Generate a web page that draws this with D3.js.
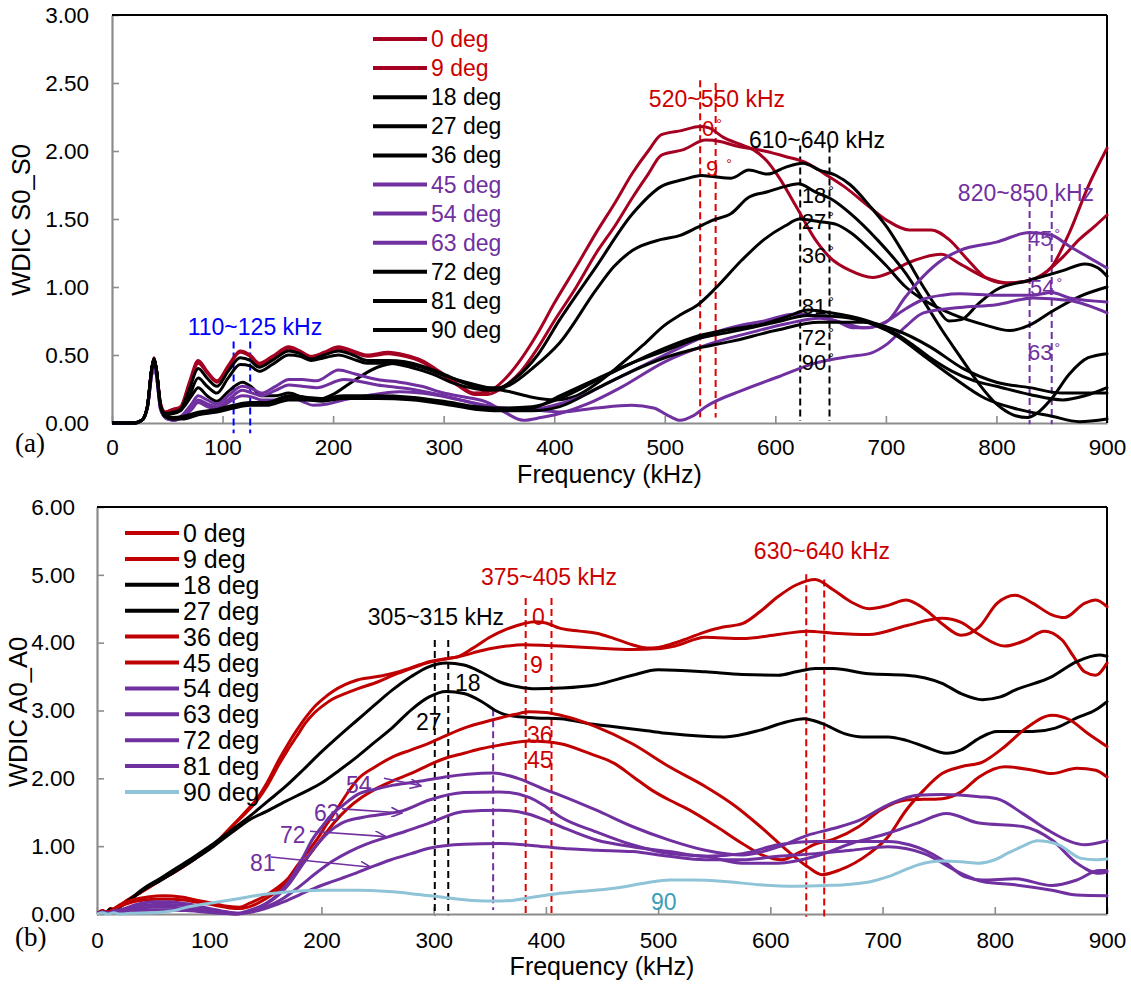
<!DOCTYPE html>
<html><head><meta charset="utf-8">
<script src="https://cdn.jsdelivr.net/npm/d3@7"></script>
<style>
body{margin:0;background:#fff}
svg{display:block}
</style>
</head><body>
<svg id="c" width="1131" height="984"></svg>
<script>
// ================= DATA =================
const freqTicks = [0,100,200,300,400,500,600,700,800,900];
const s0Ticks = [0,0.5,1,1.5,2,2.5,3];
const a0Ticks = [0,1,2,3,4,5,6];
const legendNames = ["0 deg","9 deg","18 deg","27 deg","36 deg","45 deg","54 deg","63 deg","72 deg","81 deg","90 deg"];

// ---- (a) WDIC S0_S0 : [frequency kHz, value] ----
const s0_0 = [[0,0],[20,0],[27,0.02],[32,0.12],[36,0.4],[38,0.48],[40,0.4],[44,0.14],[48,0.08],[55,0.1],[62,0.12],[70,0.3],[78,0.46],[86,0.38],[95,0.31],[105,0.42],[116,0.53],[125,0.5],[133,0.44],[145,0.49],[160,0.56],[170,0.53],[180,0.49],[192,0.52],[205,0.56],[218,0.53],[231,0.5],[250,0.52],[265,0.5],[280,0.46],[296,0.38],[312,0.29],[328,0.22],[340,0.23],[355,0.32],[370,0.47],[385,0.66],[400,0.88],[420,1.15],[438,1.4],[455,1.62],[471,1.84],[485,2.0],[497,2.12],[515,2.15],[532,2.18],[540,2.17],[553,2.1],[568,2.05],[580,2.01],[592,1.93],[603,1.81],[619,1.59],[636,1.35],[649,1.22],[668,1.12],[688,1.07],[702,1.1],[718,1.17],[735,1.22],[750,1.24],[767,1.17],[790,1.07],[810,1.03],[830,1.05],[850,1.15],[866,1.4],[883,1.74],[900,2.02]];
const s0_9 = [[0,0],[20,0],[27,0.02],[32,0.12],[36,0.4],[38,0.47],[40,0.4],[44,0.14],[48,0.08],[55,0.1],[62,0.11],[70,0.28],[78,0.44],[86,0.37],[95,0.3],[105,0.41],[116,0.52],[125,0.49],[133,0.43],[145,0.48],[160,0.55],[170,0.52],[180,0.48],[192,0.51],[205,0.55],[218,0.52],[231,0.49],[250,0.51],[265,0.49],[280,0.45],[296,0.37],[312,0.28],[328,0.21],[340,0.21],[355,0.27],[370,0.38],[385,0.55],[400,0.75],[420,1.0],[438,1.25],[455,1.45],[471,1.66],[485,1.83],[497,1.97],[517,2.01],[537,2.08],[550,2.07],[563,2.04],[590,2.0],[609,1.96],[629,1.91],[645,1.83],[662,1.74],[685,1.59],[701,1.49],[721,1.42],[741,1.42],[757,1.35],[774,1.2],[790,1.07],[807,1.03],[827,1.04],[843,1.1],[860,1.22],[875,1.35],[888,1.44],[900,1.53]];
const s0_18 = [[0,0],[20,0],[27,0.02],[32,0.12],[36,0.4],[38,0.47],[40,0.4],[44,0.12],[48,0.07],[55,0.08],[62,0.1],[70,0.25],[78,0.4],[86,0.33],[95,0.27],[105,0.38],[116,0.48],[125,0.46],[133,0.41],[145,0.46],[160,0.53],[170,0.51],[180,0.47],[192,0.5],[205,0.53],[218,0.5],[231,0.46],[250,0.46],[265,0.45],[280,0.42],[300,0.36],[320,0.29],[335,0.26],[350,0.26],[365,0.33],[385,0.5],[405,0.76],[438,1.15],[471,1.54],[497,1.74],[517,1.79],[533,1.82],[545,1.81],[560,1.8],[576,1.86],[593,1.83],[609,1.88],[625,1.91],[640,1.86],[655,1.82],[668,1.75],[685,1.6],[701,1.44],[718,1.22],[734,1.0],[746,0.85],[757,0.75],[768,0.76],[784,0.88],[800,0.98],[830,1.05],[860,1.12],[880,1.17],[892,1.14],[900,1.08]];
const s0_27 = [[0,0],[20,0],[27,0.02],[32,0.12],[36,0.4],[38,0.47],[40,0.4],[44,0.12],[48,0.07],[55,0.07],[62,0.09],[70,0.2],[78,0.33],[86,0.27],[95,0.22],[105,0.33],[116,0.43],[125,0.42],[133,0.38],[145,0.43],[160,0.5],[170,0.49],[180,0.46],[192,0.48],[205,0.5],[218,0.47],[231,0.44],[250,0.44],[270,0.41],[290,0.36],[310,0.29],[330,0.25],[345,0.24],[360,0.28],[380,0.4],[405,0.59],[438,0.98],[454,1.15],[471,1.27],[497,1.35],[514,1.38],[530,1.44],[543,1.49],[560,1.54],[576,1.66],[593,1.7],[609,1.74],[621,1.76],[636,1.7],[652,1.64],[668,1.54],[692,1.35],[718,1.1],[734,0.9],[751,0.68],[767,0.49],[784,0.29],[800,0.14],[815,0.06],[828,0.04],[838,0.08],[850,0.18],[866,0.36],[883,0.48],[900,0.51]];
const s0_36 = [[0,0],[20,0],[27,0.02],[32,0.12],[36,0.4],[38,0.47],[40,0.4],[44,0.12],[48,0.06],[55,0.07],[65,0.12],[72,0.2],[78,0.26],[86,0.2],[95,0.16],[105,0.23],[118,0.3],[127,0.26],[135,0.2],[148,0.2],[160,0.22],[172,0.19],[185,0.17],[200,0.21],[215,0.29],[240,0.41],[258,0.44],[280,0.41],[300,0.35],[320,0.3],[340,0.26],[360,0.23],[380,0.19],[400,0.17],[420,0.2],[440,0.3],[460,0.43],[480,0.57],[500,0.72],[515,0.8],[530,0.87],[547,1.0],[570,1.2],[590,1.35],[609,1.45],[622,1.5],[640,1.48],[655,1.46],[668,1.4],[685,1.28],[700,1.16],[718,1.0],[735,0.9],[760,0.8],[790,0.72],[812,0.68],[830,0.72],[850,0.82],[875,0.93],[900,1.0]];
const s0_45 = [[0,0],[20,0],[27,0.02],[32,0.11],[36,0.36],[38,0.42],[40,0.36],[44,0.1],[50,0.03],[56,0.02],[65,0.07],[72,0.14],[78,0.2],[86,0.17],[95,0.14],[105,0.2],[118,0.27],[127,0.25],[135,0.22],[148,0.27],[160,0.32],[172,0.32],[185,0.31],[205,0.39],[220,0.36],[240,0.32],[260,0.3],[280,0.27],[300,0.22],[320,0.19],[340,0.15],[355,0.08],[372,0.02],[388,0.04],[405,0.07],[430,0.14],[460,0.26],[500,0.45],[540,0.58],[580,0.67],[610,0.73],[640,0.77],[660,0.74],[680,0.7],[700,0.74],[718,0.93],[734,1.08],[751,1.2],[767,1.27],[800,1.33],[830,1.4],[850,1.38],[866,1.3],[883,1.22],[900,1.14]];
const s0_54 = [[0,0],[20,0],[27,0.02],[32,0.11],[36,0.36],[38,0.42],[40,0.36],[44,0.1],[50,0.03],[56,0.02],[65,0.06],[72,0.12],[78,0.17],[86,0.14],[95,0.12],[105,0.17],[118,0.24],[127,0.22],[135,0.2],[148,0.24],[160,0.28],[172,0.27],[185,0.26],[210,0.32],[240,0.28],[270,0.25],[300,0.2],[320,0.16],[340,0.12],[360,0.1],[380,0.1],[400,0.13],[420,0.18],[450,0.3],[480,0.42],[510,0.54],[540,0.65],[570,0.72],[590,0.75],[616,0.8],[636,0.79],[655,0.75],[670,0.7],[685,0.7],[701,0.75],[718,0.84],[734,0.91],[751,0.94],[767,0.95],[800,0.94],[833,0.94],[850,0.96],[866,0.92],[900,0.89]];
const s0_63 = [[0,0],[20,0],[27,0.02],[32,0.11],[36,0.36],[38,0.42],[40,0.36],[44,0.1],[50,0.03],[56,0.02],[65,0.05],[72,0.1],[78,0.15],[86,0.12],[95,0.1],[105,0.15],[118,0.2],[127,0.19],[135,0.17],[148,0.17],[160,0.19],[172,0.16],[182,0.13],[195,0.14],[210,0.17],[230,0.2],[260,0.23],[290,0.21],[320,0.16],[345,0.12],[370,0.1],[390,0.09],[405,0.08],[438,0.11],[470,0.13],[490,0.11],[504,0.05],[514,0.02],[525,0.05],[537,0.12],[570,0.24],[603,0.34],[636,0.44],[668,0.49],[685,0.51],[701,0.58],[718,0.71],[734,0.81],[767,0.85],[800,0.87],[833,0.92],[866,0.9],[900,0.81]];
const s0_72 = [[0,0],[20,0],[27,0.02],[32,0.12],[36,0.4],[38,0.47],[40,0.4],[44,0.12],[48,0.05],[55,0.03],[65,0.04],[78,0.07],[95,0.09],[110,0.12],[125,0.14],[140,0.14],[160,0.19],[175,0.18],[190,0.17],[210,0.19],[240,0.19],[270,0.18],[300,0.15],[330,0.11],[350,0.1],[380,0.11],[405,0.2],[440,0.33],[470,0.44],[500,0.53],[530,0.62],[560,0.67],[600,0.74],[630,0.79],[660,0.78],[690,0.72],[710,0.64],[730,0.52],[760,0.34],[790,0.18],[820,0.1],[850,0.05],[875,0.01],[900,0.03]];
const s0_81 = [[0,0],[20,0],[27,0.02],[32,0.12],[36,0.4],[38,0.47],[40,0.4],[44,0.12],[48,0.05],[55,0.04],[65,0.05],[78,0.08],[95,0.1],[110,0.13],[125,0.15],[140,0.15],[160,0.2],[175,0.19],[190,0.18],[210,0.2],[240,0.2],[270,0.19],[300,0.16],[330,0.12],[350,0.11],[380,0.12],[405,0.18],[440,0.32],[470,0.44],[500,0.55],[530,0.64],[560,0.69],[590,0.73],[610,0.78],[630,0.83],[650,0.81],[680,0.76],[700,0.7],[720,0.6],[740,0.48],[760,0.38],[780,0.31],[800,0.27],[830,0.21],[860,0.17],[880,0.2],[900,0.26]];
const s0_90 = [[0,0],[20,0],[27,0.02],[32,0.12],[36,0.4],[38,0.47],[40,0.4],[44,0.12],[48,0.05],[55,0.03],[65,0.03],[78,0.06],[95,0.08],[110,0.11],[125,0.13],[140,0.13],[160,0.17],[175,0.17],[190,0.16],[210,0.18],[240,0.18],[270,0.17],[300,0.14],[330,0.1],[350,0.09],[380,0.09],[405,0.12],[440,0.26],[470,0.38],[500,0.48],[530,0.55],[560,0.6],[600,0.68],[640,0.74],[680,0.74],[710,0.68],[740,0.56],[770,0.4],[800,0.3],[830,0.26],[860,0.22],[900,0.22]];

// ---- (b) WDIC A0_A0 ----
const a0_0 = [[0,0],[5,0.05],[8,0.02],[12,0.08],[16,0.05],[20,0.12],[25,0.18],[40,0.33],[57,0.5],[75,0.68],[92,0.87],[106,1.05],[120,1.29],[132,1.5],[143,1.71],[152,1.95],[162,2.27],[170,2.5],[178,2.71],[186,2.9],[194,3.06],[202,3.18],[210,3.28],[221,3.38],[232,3.45],[250,3.5],[264,3.55],[280,3.63],[296,3.72],[310,3.76],[321,3.79],[335,3.92],[350,4.08],[365,4.2],[380,4.28],[390,4.31],[400,4.29],[413,4.21],[430,4.17],[445,4.14],[461,4.06],[477,3.97],[490,3.92],[500,3.93],[510,3.97],[526,4.06],[542,4.16],[558,4.23],[575,4.28],[591,4.46],[607,4.68],[623,4.85],[640,4.93],[656,4.78],[672,4.6],[688,4.5],[705,4.55],[721,4.63],[737,4.5],[753,4.28],[770,4.11],[786,4.23],[802,4.58],[818,4.7],[834,4.58],[851,4.41],[862,4.37],[880,4.58],[890,4.63],[900,4.53]];
const a0_9 = [[0,0],[5,0.05],[8,0.02],[12,0.08],[16,0.05],[20,0.12],[25,0.18],[40,0.33],[57,0.5],[75,0.68],[92,0.87],[106,1.05],[120,1.29],[132,1.48],[143,1.68],[152,1.9],[162,2.2],[170,2.42],[178,2.62],[186,2.82],[194,2.97],[202,3.08],[210,3.17],[221,3.25],[232,3.32],[250,3.42],[264,3.52],[280,3.62],[296,3.71],[310,3.76],[321,3.79],[335,3.85],[350,3.91],[365,3.95],[380,3.97],[400,3.96],[413,3.95],[445,3.92],[477,3.9],[500,3.91],[515,3.95],[542,4.08],[575,4.06],[607,4.12],[633,4.17],[656,4.14],[688,4.12],[721,4.25],[753,4.36],[770,4.3],[786,4.12],[809,3.95],[828,4.04],[844,4.17],[860,4.04],[870,3.8],[880,3.57],[890,3.52],[900,3.7]];
const a0_18 = [[0,0],[5,0.04],[8,0.02],[12,0.07],[16,0.05],[20,0.1],[25,0.16],[41,0.37],[57,0.53],[73,0.7],[88,0.86],[104,1.04],[120,1.24],[136,1.44],[152,1.66],[168,1.88],[184,2.13],[200,2.39],[216,2.63],[232,2.86],[248,3.09],[263,3.3],[280,3.5],[295,3.64],[311,3.7],[327,3.67],[343,3.56],[359,3.42],[375,3.35],[391,3.32],[413,3.33],[445,3.38],[477,3.52],[500,3.6],[542,3.57],[575,3.53],[607,3.52],[623,3.57],[640,3.62],[656,3.62],[688,3.54],[721,3.52],[753,3.4],[770,3.25],[789,3.16],[805,3.2],[818,3.3],[851,3.5],[873,3.72],[893,3.82],[900,3.8]];
const a0_27 = [[0,0],[5,0.04],[8,0.02],[12,0.07],[16,0.05],[20,0.1],[25,0.15],[41,0.35],[57,0.5],[73,0.66],[88,0.82],[104,1.0],[120,1.2],[136,1.39],[152,1.52],[168,1.66],[184,1.79],[200,1.93],[216,2.12],[232,2.32],[248,2.54],[264,2.76],[280,3.01],[296,3.2],[311,3.28],[327,3.25],[343,3.13],[355,3.0],[366,2.93],[391,2.89],[413,2.88],[440,2.8],[461,2.76],[490,2.7],[510,2.66],[559,2.61],[591,2.71],[614,2.83],[630,2.88],[646,2.81],[666,2.66],[682,2.61],[705,2.61],[721,2.56],[737,2.47],[757,2.37],[770,2.42],[786,2.59],[802,2.69],[834,2.69],[854,2.74],[873,2.89],[890,3.01],[900,3.13]];
const a0_36 = [[0,0],[5,0.04],[10,0.03],[15,0.08],[20,0.13],[30,0.2],[45,0.25],[60,0.27],[75,0.25],[90,0.2],[105,0.15],[118,0.11],[127,0.1],[136,0.16],[148,0.25],[160,0.38],[170,0.52],[178,0.7],[187,0.9],[196,1.1],[205,1.33],[214,1.55],[223,1.78],[232,1.98],[248,2.17],[264,2.32],[280,2.42],[296,2.52],[311,2.63],[327,2.74],[343,2.82],[359,2.89],[372,2.94],[385,2.98],[400,2.97],[413,2.93],[445,2.76],[477,2.51],[510,2.17],[542,1.88],[568,1.6],[591,1.29],[614,0.95],[633,0.7],[646,0.58],[662,0.65],[688,0.89],[705,1.14],[721,1.53],[737,1.83],[753,2.07],[770,2.17],[789,2.24],[809,2.47],[828,2.74],[851,2.93],[867,2.86],[883,2.66],[900,2.47]];
const a0_45 = [[0,0],[5,0.04],[10,0.03],[15,0.07],[20,0.11],[30,0.17],[45,0.21],[60,0.22],[75,0.21],[90,0.17],[105,0.13],[118,0.09],[127,0.08],[138,0.12],[150,0.22],[162,0.36],[172,0.52],[182,0.72],[192,0.93],[202,1.15],[212,1.36],[223,1.55],[236,1.72],[250,1.86],[266,1.98],[281,2.08],[296,2.2],[311,2.3],[327,2.37],[343,2.44],[359,2.49],[385,2.55],[400,2.54],[413,2.51],[440,2.36],[461,2.22],[478,2.02],[494,1.83],[510,1.68],[526,1.55],[552,1.29],[575,1.04],[594,0.86],[610,0.8],[625,0.9],[640,1.03],[656,1.1],[679,1.29],[698,1.53],[721,1.68],[753,1.7],[770,1.8],[786,2.02],[809,2.17],[834,2.12],[851,2.07],[873,2.15],[890,2.12],[900,2.02]];
const a0_54 = [[0,0],[5,0.03],[10,0.01],[15,0.05],[20,0.06],[35,0.14],[50,0.18],[65,0.18],[80,0.15],[95,0.1],[110,0.05],[125,0.01],[135,0.05],[150,0.15],[162,0.3],[172,0.5],[184,0.85],[192,1.1],[201,1.3],[210,1.48],[219,1.6],[232,1.76],[248,1.84],[264,1.9],[289,1.96],[310,2.02],[330,2.06],[353,2.08],[375,2.0],[400,1.83],[413,1.75],[445,1.53],[477,1.29],[510,1.09],[542,0.94],[575,0.87],[607,0.99],[633,1.16],[656,1.26],[679,1.38],[705,1.61],[731,1.75],[753,1.76],[786,1.73],[802,1.7],[825,1.48],[847,1.24],[867,1.07],[880,1.02],[900,1.08]];
const a0_63 = [[0,0],[5,0.03],[10,0.01],[15,0.04],[20,0.05],[35,0.11],[50,0.14],[65,0.14],[80,0.12],[95,0.08],[110,0.04],[125,0.01],[135,0.04],[150,0.14],[162,0.28],[172,0.46],[184,0.75],[195,1.0],[206,1.2],[218,1.34],[235,1.42],[255,1.47],[272,1.52],[296,1.68],[327,1.79],[359,1.8],[385,1.72],[400,1.58],[413,1.43],[445,1.21],[477,1.02],[510,0.89],[542,0.85],[575,0.75],[607,0.75],[640,0.85],[672,1.04],[705,1.19],[731,1.34],[757,1.48],[786,1.34],[825,1.29],[851,1.09],[873,0.75],[893,0.6],[900,0.62]];
const a0_72 = [[0,0],[5,0.03],[10,0.01],[15,0.03],[20,0.04],[35,0.08],[50,0.1],[65,0.1],[80,0.08],[95,0.05],[110,0.02],[125,0.0],[135,0.03],[150,0.1],[165,0.22],[180,0.4],[195,0.6],[210,0.78],[225,0.92],[240,1.03],[258,1.13],[275,1.22],[296,1.34],[327,1.51],[359,1.53],[385,1.47],[400,1.38],[413,1.29],[445,1.09],[477,0.99],[510,0.92],[542,0.85],[575,0.89],[607,1.02],[640,1.07],[672,1.07],[705,1.07],[724,1.02],[753,0.8],[773,0.55],[789,0.5],[818,0.52],[851,0.42],[873,0.5],[893,0.64],[900,0.64]];
const a0_81 = [[0,0],[5,0.03],[10,0.01],[15,0.02],[20,0.03],[35,0.05],[50,0.06],[65,0.06],[80,0.05],[95,0.03],[110,0.01],[125,0.0],[135,0.02],[150,0.08],[165,0.17],[180,0.28],[195,0.39],[210,0.48],[227,0.58],[244,0.69],[262,0.8],[280,0.89],[296,0.97],[327,1.03],[359,1.04],[400,0.99],[413,0.97],[445,0.94],[477,0.92],[510,0.85],[542,0.8],[575,0.8],[607,0.85],[640,0.89],[672,0.94],[705,0.99],[737,0.89],[770,0.6],[789,0.48],[818,0.43],[851,0.35],[873,0.28],[900,0.27]];
const a0_90 = [[0,0],[5,0.02],[10,0.0],[15,0.02],[20,0.0],[30,0.01],[50,0.02],[65,0.04],[83,0.11],[105,0.17],[127,0.23],[145,0.28],[160,0.31],[180,0.34],[201,0.35],[232,0.35],[260,0.33],[280,0.3],[311,0.24],[335,0.2],[353,0.19],[370,0.2],[385,0.24],[410,0.3],[430,0.33],[461,0.38],[490,0.46],[510,0.5],[530,0.5],[559,0.48],[591,0.43],[623,0.41],[650,0.42],[672,0.44],[690,0.48],[705,0.55],[720,0.65],[731,0.72],[753,0.78],[770,0.77],[786,0.75],[800,0.8],[812,0.9],[825,1.0],[838,1.08],[857,1.02],[877,0.82],[890,0.8],[900,0.81]];

// annotation values (frequency kHz, value range)
const s0Guides = [[110,0.60,-0.075],[125,0.60,-0.075],[532,2.52,0.04],[546,2.50,0.04],[622.5,2.04,0.015],[649,2.04,0.015],[830,1.64,-0.01],[850,1.64,-0.01]];
const s0GuideKind = ["blue","blue","red","red","black","black","purple","purple"];
const a0Guides = [[301,4.04,-0.02],[313,4.04,-0.02],[353,3.02,0.06],[382,4.66,0],[405,4.66,0],[632,5.01,-0.04],[648,4.93,-0.04]];
const a0GuideKind = ["black","black","purple","red","red","red","red"];
const s0Labels = [["110~125 kHz",129.3,0.647,"blue","middle"],["520~550 kHz",547.2,2.32,"red","middle"],["610~640 kHz",637.7,2.02,"black","middle"],["820~850 kHz",826.7,1.632,"purple","middle"]];
const s0DegLabels = [["0",533.6,2.11,"red"],["9 ",537.3,1.816,"red"],["18",624,1.615,"black"],["27",624,1.43,"black"],["36",624,1.176,"black"],["81",624,0.80,"black"],["72",624,0.574,"black"],["90",624,0.39,"black"],["45",828.5,1.30,"purple"],["54",830.3,0.94,"purple"],["63",828.5,0.463,"purple"]];
const a0Labels = [["305~315 kHz",302,4.26,"black","middle"],["375~405 kHz",402.8,4.85,"red","middle"],["630~640 kHz",646,5.24,"red","middle"],
  ["0",387.6,4.26,"red","start"],["9",385.8,3.55,"red","start"],["18",319,3.29,"black","start"],["27",284.3,2.71,"black","start"],["36",383.2,2.52,"red","start"],["45",383.2,2.15,"red","start"],
  ["54",221.9,1.785,"purple","start"],["63",193.4,1.372,"purple","start"],["72",163.1,1.047,"purple","start"],["81",136.3,0.634,"purple","start"],["90",493.7,0.059,"teal","start"]];
const a0Arrows = [[255.7,2.0,288.7,1.89],[218.3,1.55,271.8,1.49],[189.8,1.22,257.5,1.14],[155,0.84,244.2,0.69]];

// ================= STYLE =================
const SANS = "Arial, 'Liberation Sans', sans-serif";
const SERIF = "'Liberation Serif', 'Times New Roman', serif";
const C = {red:"#cc0000", darkred:"#a50021", red2:"#c00000", black:"#000000", purple:"#7030a0", blue:"#0000ff", lightblue:"#8fc4d8", teal:"#3d9cb6", guideRed:"#e00000", axis:"#8c8c8c"};
const kindColor = {blue:C.blue, red:C.guideRed, black:C.black, purple:C.purple, teal:C.teal};

const svg = d3.select("#c").style("font-family",SANS);
svg.append("rect").attr("width",1131).attr("height",984).attr("fill","#fff");
const defs = svg.append("defs");
defs.append("marker").attr("id","arr").attr("viewBox","0 0 12 10").attr("refX",11).attr("refY",5)
  .attr("markerWidth",12).attr("markerHeight",10).attr("markerUnits","userSpaceOnUse").attr("orient","auto")
  .append("path").attr("d","M0,0 L11,5 L0,10").attr("fill","none").attr("stroke",C.purple).attr("stroke-width",1.6);

function panel(o){
  const g = svg.append("g");
  const x = d3.scaleLinear().domain([0,900]).range([o.left,o.right]);
  const y = d3.scaleLinear().domain([0,o.ymax]).range([o.bottom,o.top]);
  const cid = "clip"+o.id;
  defs.append("clipPath").attr("id",cid).append("rect")
    .attr("x",o.left).attr("y",o.top-2).attr("width",o.right-o.left+2).attr("height",o.bottom-o.top+4);

  // axes
  const xa = d3.axisBottom(x).tickValues(freqTicks).tickFormat(d3.format("d")).tickSizeInner(-7).tickSizeOuter(0).tickPadding(o.xpad);
  const ya = d3.axisLeft(y).tickValues(o.yticks).tickFormat(d3.format(".2f")).tickSizeInner(-7).tickSizeOuter(0).tickPadding(o.ypad);
  const gx = g.append("g").attr("transform",`translate(0,${o.bottom})`).call(xa);
  const gy = g.append("g").attr("transform",`translate(${o.left},0)`).call(ya);
  [gx,gy].forEach(a=>{
    a.attr("font-family",null).attr("font-size",null);
    a.select(".domain").attr("stroke",C.axis).attr("stroke-width",2.2);
    a.selectAll(".tick line").attr("stroke",C.axis).attr("stroke-width",1.6);
    a.selectAll(".tick text").style("font-size","22.5px").style("font-family",SANS).attr("fill","#000");
  });
  g.append("line").attr("x1",o.left).attr("x2",o.right).attr("y1",o.top).attr("y2",o.top).attr("stroke","#000").attr("stroke-width",2);
  g.append("line").attr("x1",o.right).attr("x2",o.right).attr("y1",o.top).attr("y2",o.bottom).attr("stroke","#000").attr("stroke-width",2);

  // guides (dashed)
  o.guides.forEach((d,i)=>{
    g.append("line").attr("x1",x(d[0])).attr("x2",x(d[0])).attr("y1",y(d[1])).attr("y2",y(d[2]))
      .attr("stroke",kindColor[o.guideKind[i]]).attr("stroke-width",2).attr("stroke-dasharray","7,4");
  });

  // curves
  const line = d3.line().x(d=>x(d[0])).y(d=>y(d[1])).curve(d3.curveMonotoneX);
  const cg = g.append("g").attr("clip-path",`url(#${cid})`);
  o.series.forEach(s=>{
    cg.append("path").attr("d",line(s.data)).attr("fill","none").attr("stroke",s.color)
      .attr("stroke-width",3).attr("stroke-linejoin","round").attr("stroke-linecap","round");
  });

  // legend
  o.series.forEach((s,i)=>{
    const ly = o.legY + i*o.legStep;
    g.append("line").attr("x1",o.legX1).attr("x2",o.legX2).attr("y1",ly).attr("y2",ly)
      .attr("stroke",s.color).attr("stroke-width",4);
    g.append("text").attr("x",o.legX2+4).attr("y",ly+o.legBase).style("font-size",o.legFont+"px")
      .attr("fill",s.textColor).text(s.name);
  });

  // titles
  g.append("text").attr("x",(o.left+o.right)/2).attr("y",o.xTitleY).attr("text-anchor","middle").style("font-size","25px").text("Frequency (kHz)");
  g.append("text").attr("transform",`translate(${o.yTitleX},${o.yTitleC}) rotate(-90)`).attr("text-anchor","middle").style("font-size","25.5px").text(o.ytitle);
  g.append("text").attr("x",15).attr("y",o.tagY).style("font-size","27px").style("font-family",SERIF).text(o.tag);
  return {g,x,y};
}

function mk(names, arrs, colors, textColors){
  return arrs.map((a,i)=>({name:names[i],data:a,color:colors[i],textColor:textColors[i]}));
}

// ---------- Panel (a) ----------
const s0Colors = [C.darkred,C.darkred,C.black,C.black,C.black,C.purple,C.purple,C.purple,C.black,C.black,C.black];
const s0Text = [C.red,C.red,C.black,C.black,C.black,C.purple,C.purple,C.purple,C.black,C.black,C.black];
const pa = panel({id:"a", left:112, right:1107, top:15, bottom:423, ymax:3, yticks:s0Ticks, xpad:16, ypad:23,
  series: mk(legendNames,[s0_0,s0_9,s0_18,s0_27,s0_36,s0_45,s0_54,s0_63,s0_72,s0_81,s0_90],s0Colors,s0Text),
  guides:s0Guides, guideKind:s0GuideKind,
  legX1:373, legX2:427, legY:39, legStep:29.1, legBase:8, legFont:23,
  xTitleY:483, yTitleX:30, yTitleC:220, ytitle:"WDIC S0_S0", tag:"(a)", tagY:452});

s0Labels.forEach(d=>{
  pa.g.append("text").attr("x",pa.x(d[1])).attr("y",pa.y(d[2])).attr("text-anchor",d[4]).style("font-size","23px")
    .attr("fill",d[3]=="red"?C.red:kindColor[d[3]]).text(d[0]);
});
s0DegLabels.forEach(d=>{
  const t = pa.g.append("text").attr("x",pa.x(d[1])).attr("y",pa.y(d[2])).style("font-size","22px")
    .attr("fill",d[3]=="red"?C.red:kindColor[d[3]]);
  t.append("tspan").text(d[0]);
  t.append("tspan").attr("dx",2).attr("dy",-7).style("font-size","14px").text("°");
});

// ---------- Panel (b) ----------
const a0Colors = [C.red2,C.red2,C.black,C.black,C.red2,C.red2,C.purple,C.purple,C.purple,C.purple,C.lightblue];
const a0Text = legendNames.map(()=>C.black);
const pb = panel({id:"b", left:97, right:1107, top:507, bottom:914, ymax:6, yticks:a0Ticks, xpad:18, ypad:22,
  series: mk(legendNames,[a0_0,a0_9,a0_18,a0_27,a0_36,a0_45,a0_54,a0_63,a0_72,a0_81,a0_90],a0Colors,a0Text),
  guides:a0Guides, guideKind:a0GuideKind,
  legX1:125, legX2:179, legY:533, legStep:25.9, legBase:9, legFont:25,
  xTitleY:975, yTitleX:27, yTitleC:712, ytitle:"WDIC A0_A0", tag:"(b)", tagY:946});

a0Labels.forEach(d=>{
  pb.g.append("text").attr("x",pb.x(d[1])).attr("y",pb.y(d[2])).attr("text-anchor",d[4]).style("font-size","23px")
    .attr("fill",d[3]=="red"?C.red:kindColor[d[3]]).text(d[0]);
});
a0Arrows.forEach(d=>{
  pb.g.append("line").attr("x1",pb.x(d[0])).attr("y1",pb.y(d[1])).attr("x2",pb.x(d[2])).attr("y2",pb.y(d[3]))
    .attr("stroke",C.purple).attr("stroke-width",1.6).attr("marker-end","url(#arr)");
});
</script>
</body></html>
